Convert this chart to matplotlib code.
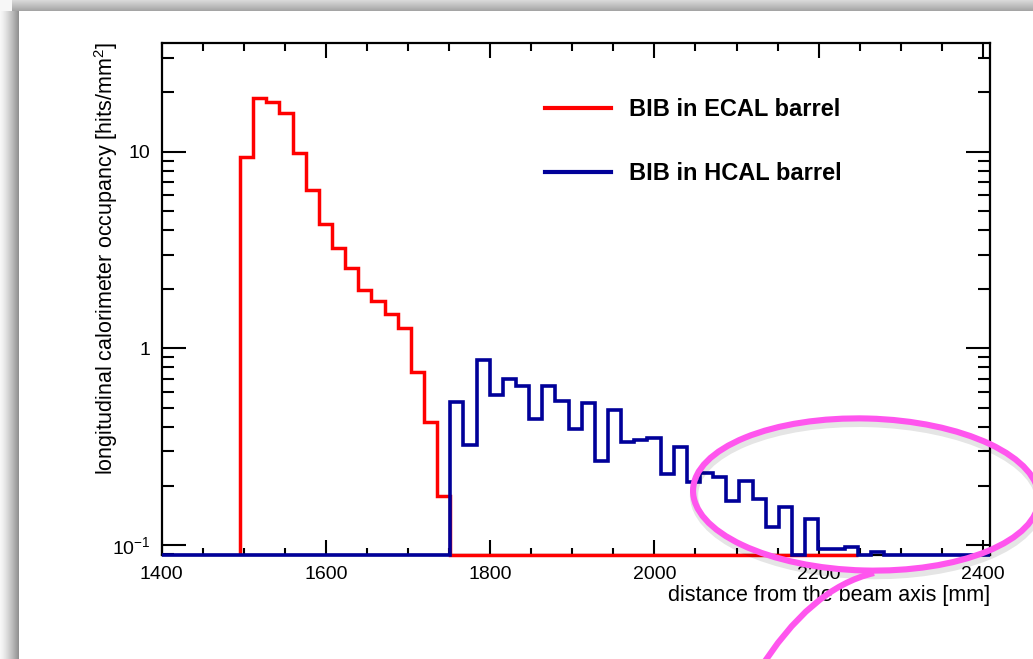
import numpy as np
import matplotlib
matplotlib.use("Agg")
import matplotlib.pyplot as plt
from matplotlib.lines import Line2D
from matplotlib.patches import Ellipse, PathPatch
from matplotlib.path import Path
from matplotlib.ticker import FixedLocator, FixedFormatter, LogLocator, NullFormatter

plt.rcParams['font.family'] = ['Liberation Sans', 'DejaVu Sans']
plt.rcParams['mathtext.fontset'] = 'custom'
plt.rcParams['mathtext.rm'] = 'Liberation Sans'
plt.rcParams['mathtext.it'] = 'Liberation Sans:italic'
plt.rcParams['mathtext.bf'] = 'Liberation Sans:bold'

# histogram binning (mm)
bin_w = 16.0
ecal_lo = 1495.5
ecal_hi = 2247.5
hcal_lo = 1751.5

# occupancy per bin [hits/mm^2]
ecal_vals = [9.4, 18.8, 17.9, 15.7, 9.8, 6.4, 4.3, 3.24, 2.56, 1.97, 1.75, 1.50,
             1.27, 0.76, 0.42, 0.177]
hcal_vals = [0.532, 0.321, 0.869, 0.576, 0.70, 0.642, 0.438, 0.647, 0.538, 0.387,
             0.529, 0.269, 0.484, 0.333, 0.344, 0.351, 0.229, 0.316, 0.21, 0.233,
             0.221, 0.167, 0.211, 0.172, 0.123, 0.157, 0.0, 0.136, 0.095, 0.095,
             0.098, 0.0, 0.092]

labels = ['BIB in ECAL barrel', 'BIB in HCAL barrel']
xticks = [1400, 1600, 1800, 2000, 2200, 2400]
yticks = [0.1, 1, 10]
ytick_labels = ['10$^{-1}$', '1', '10']

xmin, xmax = 1400, 2408.5
ymin, ymax = 0.089, 35.9

red = '#ff0000'
blue = '#000099'
pink = '#ff55ee'

W, H = 1033, 659
fig = plt.figure(figsize=(W / 100, H / 100), dpi=100)
fig.patch.set_facecolor('white')

# drop shadow frame around the page
bg = np.ones((H, W, 3))
xs = np.arange(19)
left = 0.97 - 0.40 * (xs / 18.0) ** 1.3
bg[:, :19, :] = left[None, :, None]
ys = np.arange(11)
top = 0.85 - 0.20 * (ys / 10.0)
bg[:11, 12:, :] = top[:, None, None]
for i in range(11):
    for j in range(12):
        bg[i, j, :] = 0.97
bax = fig.add_axes([0, 0, 1, 1], zorder=-10)
bax.imshow(bg, aspect='auto', interpolation='bilinear')
bax.axis('off')

ax = fig.add_axes([161.5 / W, 1 - 555 / H, (990 - 161.5) / W, (555 - 42.5) / H])
ax.set_facecolor('white')

floor = ymin
e_edges = np.r_[ecal_lo + bin_w * np.arange(len(ecal_vals) + 1), ecal_hi]
e_vals = np.maximum(np.r_[ecal_vals, 0.0], floor)
h_edges = np.r_[xmin, hcal_lo + bin_w * np.arange(len(hcal_vals) + 1), xmax]
h_vals = np.maximum(np.r_[0.0, hcal_vals, 0.0], floor)

ax.stairs(e_vals, e_edges, baseline=floor, color=red, lw=2.5, clip_on=False, zorder=3)
ax.stairs(h_vals, h_edges, baseline=floor, color=blue, lw=2.6, clip_on=False, zorder=4)

ax.set_yscale('log')
ax.set_xlim(xmin, xmax)
ax.set_ylim(ymin, ymax)

ax.xaxis.set_major_locator(FixedLocator(xticks))
ax.xaxis.set_minor_locator(FixedLocator(np.arange(1400, 2401, 50)))
ax.yaxis.set_major_locator(FixedLocator(yticks))
ax.yaxis.set_major_formatter(FixedFormatter(ytick_labels))
ax.yaxis.set_minor_locator(LogLocator(base=10, subs=np.arange(2, 10)))
ax.yaxis.set_minor_formatter(NullFormatter())

ax.tick_params(axis='both', which='both', direction='in', top=True, right=True,
               width=1.5, labelsize=14, colors='black')
ax.tick_params(axis='x', which='major', length=10.8, pad=8)
ax.tick_params(axis='x', which='minor', length=5.4)
ax.tick_params(axis='y', which='major', length=17, pad=8)
ax.tick_params(axis='y', which='minor', length=8.6)
for s in ax.spines.values():
    s.set_linewidth(1.6)

ax.set_xlabel('distance from the beam axis [mm]', loc='right', fontsize=15.5, labelpad=1)
ax.set_ylabel('longitudinal calorimeter occupancy [hits/mm$^2$]', loc='top', fontsize=15.5)
ax.yaxis.set_label_coords(-0.050, 1.0)

handles = [Line2D([], [], color=red, lw=3), Line2D([], [], color=blue, lw=3)]
leg = ax.legend(handles, labels, loc='upper left', bbox_to_anchor=(545 / W, 1 - 98 / H),
                bbox_transform=fig.transFigure, frameon=False, borderpad=0,
                borderaxespad=0, handlelength=2.8, handletextpad=0.75,
                labelspacing=1.75, prop={'weight': 'bold', 'size': 17})

# magenta highlight ellipse with callout tail
oax = fig.add_axes([0, 0, 1, 1], zorder=10)
oax.set_xlim(0, W)
oax.set_ylim(H, 0)
oax.axis('off')
oax.patch.set_alpha(0)
oax.add_patch(Ellipse((867, 499), 346, 152, angle=1.5, fill=False, lw=6,
                      edgecolor='black', alpha=0.1))
oax.add_patch(Ellipse((866, 494.5), 346, 152, angle=1.5, fill=False, lw=4.4,
                      edgecolor=pink))
tail = Path([(874, 573), (810, 588), (758, 672)], [Path.MOVETO, Path.CURVE3, Path.CURVE3])
oax.add_patch(PathPatch(tail, fill=False, lw=4.4, edgecolor=pink, capstyle='butt'))

fig.savefig('out.png', dpi=100, facecolor='white')
